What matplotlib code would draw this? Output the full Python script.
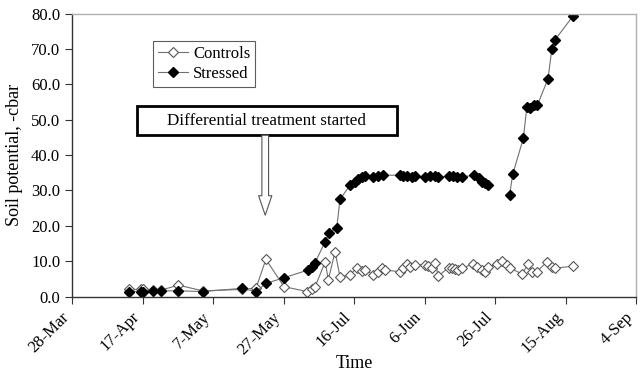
import numpy as np
import matplotlib
matplotlib.use("Agg")
import matplotlib.pyplot as plt
from matplotlib.patches import Rectangle, FancyArrowPatch

plt.rcParams['font.family'] = ['Liberation Serif', 'DejaVu Serif']

# days counted from 28-Mar
ctrl_day = [16.3, 19.5, 20.2, 22.9, 25.2, 30.2, 37.1, 48.1, 52.2, 55.0, 60.1,
            66.6, 68.0, 68.9, 71.8, 72.7, 74.6, 76.0, 78.9, 80.8, 82.2, 83.1,
            85.5, 86.9, 87.9, 88.8, 93.0, 94.0, 95.0, 95.9, 97.3, 100.1, 101.1,
            102.0, 103.0, 103.9, 106.8, 107.7, 108.7, 109.6, 110.6, 113.8, 114.8,
            116.2, 117.2, 118.1, 120.5, 121.9, 123.3, 124.3, 127.6, 129.4, 130.4,
            131.8, 134.7, 136.1, 137.0, 142.2]
ctrl_val = [2.0, 2.0, 2.0, 1.8, 1.8, 3.2, 1.6, 2.0, 2.4, 10.5, 2.8,
            1.4, 2.0, 2.6, 9.8, 4.7, 12.7, 5.6, 6.1, 8.2, 7.3, 7.5,
            6.1, 7.0, 8.2, 7.5, 7.0, 8.0, 9.2, 8.4, 8.9, 8.9, 8.6,
            8.2, 9.5, 5.8, 8.2, 8.2, 7.7, 7.5, 8.0, 9.2, 8.4,
            7.5, 7.0, 8.4, 9.2, 10.1, 8.9, 8.0, 6.4, 9.2, 7.0,
            7.0, 9.8, 8.4, 8.0, 8.6]

str_day = [16.3, 19.5, 20.2, 22.9, 25.2, 30.2, 37.1, 48.1, 52.2, 55.0, 60.1,
           67.0, 68.0, 68.9, 71.8, 72.9, 75.1, 76.0, 78.9, 80.3, 81.2, 82.2,
           83.1, 85.5, 86.9, 88.3, 93.0, 94.0, 95.1, 96.4, 97.3, 100.1, 101.6,
           103.0, 103.9, 106.8, 108.0, 109.1, 110.6, 114.0, 115.3, 116.2, 117.2,
           118.1, np.nan,
           124.1, 125.0, 128.0, 129.0, 129.9, 130.9, 132.0, 135.0, 136.1, 137.0,
           142.0]
str_val = [1.4, 1.4, 1.4, 1.6, 1.6, 1.6, 1.4, 2.3, 1.4, 3.7, 5.3,
           7.5, 8.4, 9.5, 15.5, 17.9, 19.5, 27.5, 31.5, 32.4, 33.1, 33.7,
           34.0, 33.8, 34.0, 34.3, 34.3, 34.0, 34.0, 33.8, 34.0, 33.7, 34.0,
           34.0, 33.8, 34.0, 34.0, 33.8, 33.8, 34.3, 33.4, 32.4, 32.1,
           31.5, np.nan,
           28.7, 34.6, 44.7, 53.6, 53.4, 54.1, 54.1, 61.6, 70.1, 72.6,
           79.2]

tick_days = [0, 20, 40, 60, 80, 100, 120, 140, 160]
tick_labels = ['28-Mar', '17-Apr', '7-May', '27-May', '16-Jul', '6-Jun',
               '26-Jul', '15-Aug', '4-Sep']

fig = plt.figure(figsize=(6.4, 3.78), dpi=100)
ax = fig.add_axes([0.1125, 0.2156, 0.8815, 0.7484])

ax.plot(ctrl_day, ctrl_val, color='#707070', lw=0.8, marker='D', ms=4.6,
        mfc='white', mec='#555555', mew=0.8, label='Controls')
ax.plot(str_day, str_val, color='#707070', lw=0.8, marker='D', ms=4.6,
        mfc='black', mec='black', label='Stressed')

ax.set_xlim(0, 160)
ax.set_ylim(0, 80)
ax.set_xticks(tick_days)
ax.set_xticklabels(tick_labels, rotation=45, ha='right', va='top')
ax.set_yticks(np.arange(0, 81, 10))
ax.set_yticklabels(['%.1f' % v for v in np.arange(0, 81, 10)])
ax.tick_params(labelsize=12, length=5, width=0.8, color='#333333')
ax.tick_params(axis='x', pad=4)

for s in ['left', 'bottom']:
    ax.spines[s].set_color('#333333')
    ax.spines[s].set_linewidth(1.0)
for s in ['top', 'right']:
    ax.spines[s].set_color('#b0b0b0')
    ax.spines[s].set_linewidth(1.0)

ax.set_xlabel('Time', fontsize=13, labelpad=-2)
ax.set_ylabel('Soil potential, -cbar', fontsize=13, labelpad=6)

leg = ax.legend(loc='upper left', bbox_to_anchor=(0.1436, 0.904), fontsize=12,
                frameon=True, fancybox=False, borderaxespad=0, handlelength=1.8,
                handletextpad=0.3, borderpad=0.3, labelspacing=0.25)
leg.get_frame().set_edgecolor('#333333')
leg.get_frame().set_linewidth(0.8)

# annotation box and hollow arrow
ax.add_patch(Rectangle((0.115, 0.571), 0.461, 0.102, transform=ax.transAxes,
                       fc='white', ec='black', lw=2, zorder=5))
ax.text(0.3455, 0.622, 'Differential treatment started', transform=ax.transAxes,
        ha='center', va='center', fontsize=12.3, zorder=6)
arrow = FancyArrowPatch((54.8, 45.6), (54.8, 23.0),
                        arrowstyle='simple,head_length=14,head_width=9.5,tail_width=4.8',
                        mutation_scale=1, shrinkA=0, shrinkB=0,
                        fc='white', ec='#555555', lw=0.8, zorder=5)
ax.add_patch(arrow)

fig.savefig('out.png', dpi=100)
